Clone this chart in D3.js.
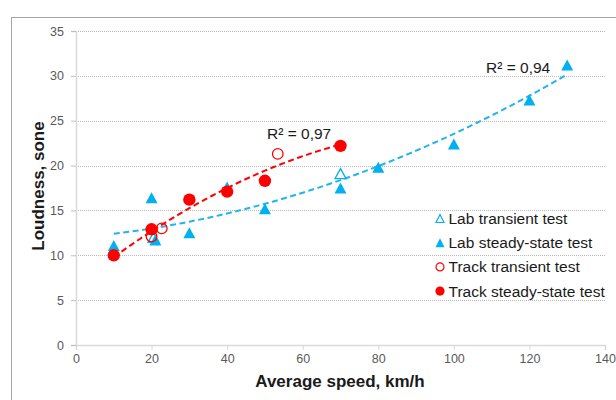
<!DOCTYPE html>
<html>
<head>
<meta charset="utf-8">
<script src="https://cdn.jsdelivr.net/npm/d3@7"></script>
<style>
  html, body { margin: 0; padding: 0; background: #fff; }
  svg { display: block; font-family: "Liberation Sans", Arial, sans-serif; }
</style>
</head>
<body>
<svg id="chart" width="616" height="400"></svg>
<script>
// ---- Data ----
const xTicks = [0, 20, 40, 60, 80, 100, 120, 140];
const yTicks = [0, 5, 10, 15, 20, 25, 30, 35];

const labTransientX = [20.5, 70];
const labTransientY = [12.0, 19.1];

const labSteadyX = [10, 20, 21, 30, 40, 50, 70, 80, 100, 120, 130];
const labSteadyY = [11.1, 16.4, 11.7, 12.5, 17.6, 15.2, 17.5, 19.8, 22.4, 27.3, 31.2];

const trackTransientX = [20, 22.7, 53.4];
const trackTransientY = [12.1, 13.0, 21.3];

const trackSteadyX = [10, 20, 30, 40, 50, 70];
const trackSteadyY = [10.0, 12.9, 16.2, 17.1, 18.3, 22.2];

const seriesNames = ["Lab transient test", "Lab steady-state test", "Track transient test", "Track steady-state test"];
const r2Labels = ["R\u00B2 = 0,94", "R\u00B2 = 0,97"];

// ---- Setup ----
const BLUE = "#00b0f0", RED = "#ff0000";
const svg = d3.select("#chart");
const x = d3.scaleLinear().domain([0, 140]).range([76, 605]);
const y = d3.scaleLinear().domain([0, 35]).range([345, 31]);

const zip = (xs, ys) => xs.map((v, i) => ({x: v, y: ys[i]}));
const labT = zip(labTransientX, labTransientY);
const labS = zip(labSteadyX, labSteadyY);
const trT = zip(trackTransientX, trackTransientY);
const trS = zip(trackSteadyX, trackSteadyY);

// outer chart border
svg.append("rect").attr("x", 11.5).attr("y", 17.5).attr("width", 700).attr("height", 500)
  .attr("fill", "none").attr("stroke", "#a6a6a6").attr("stroke-width", 1);

// gridlines
svg.append("g").selectAll("line").data(yTicks.filter(d => d > 0)).join("line")
  .attr("x1", x(0)).attr("x2", x(140))
  .attr("y1", d => Math.round(y(d)) + 0.5).attr("y2", d => Math.round(y(d)) + 0.5)
  .attr("stroke", "#b8b8b8").attr("stroke-width", 1).attr("stroke-dasharray", "1,1");

// axes
const xAxis = d3.axisBottom(x).tickValues(xTicks).tickSize(5).tickPadding(4).tickFormat(d3.format("d"));
const yAxis = d3.axisLeft(y).tickValues(yTicks).tickSize(5).tickPadding(7).tickFormat(d3.format("d"));

const gx = svg.append("g").attr("transform", `translate(0,${y(0)})`).call(xAxis);
const gy = svg.append("g").attr("transform", `translate(${x(0)},0)`).call(yAxis);
[gx, gy].forEach(g => {
  g.select(".domain").attr("stroke", "#d9d9d9").attr("stroke-width", 1.5);
  g.selectAll(".tick line").attr("stroke", "#d9d9d9").attr("stroke-width", 1);
  g.selectAll(".tick text").attr("fill", "#595959").style("font-size", "12.5px")
    .style("font-family", "'Liberation Sans', Arial, sans-serif");
});
gy.selectAll(".tick line").attr("stroke", "#bfbfbf");

// axis titles
svg.append("text").attr("x", 340).attr("y", 387).attr("text-anchor", "middle")
  .style("font-size", "17px").style("font-weight", "bold").attr("fill", "#1a1a1a")
  .text("Average speed, km/h");
svg.append("text").attr("transform", "translate(44,186) rotate(-90)").attr("text-anchor", "middle")
  .style("font-size", "17px").style("font-weight", "bold").attr("fill", "#1a1a1a")
  .text("Loudness, sone");

// ---- polynomial (order 2) least-squares trendline ----
function polyFit(pts) {
  const S = [0,0,0,0,0], T = [0,0,0];
  pts.forEach(p => {
    for (let k = 0; k < 5; k++) S[k] += Math.pow(p.x, k);
    for (let k = 0; k < 3; k++) T[k] += p.y * Math.pow(p.x, k);
  });
  const A = [[S[0],S[1],S[2],T[0]],[S[1],S[2],S[3],T[1]],[S[2],S[3],S[4],T[2]]];
  for (let i = 0; i < 3; i++) {
    let m = i;
    for (let r = i+1; r < 3; r++) if (Math.abs(A[r][i]) > Math.abs(A[m][i])) m = r;
    [A[i], A[m]] = [A[m], A[i]];
    for (let r = 0; r < 3; r++) if (r !== i) {
      const f = A[r][i] / A[i][i];
      for (let c = i; c < 4; c++) A[r][c] -= f * A[i][c];
    }
  }
  const c = [A[0][3]/A[0][0], A[1][3]/A[1][1], A[2][3]/A[2][2]];
  return v => c[0] + c[1]*v + c[2]*v*v;
}

function trend(pts, color) {
  const f = polyFit(pts);
  const ext = d3.extent(pts, p => p.x);
  const xs = d3.range(ext[0], ext[1] + 0.001, (ext[1] - ext[0]) / 60);
  svg.append("path").datum(xs)
    .attr("d", d3.line().x(v => x(v)).y(v => y(f(v))))
    .attr("fill", "none").attr("stroke", color).attr("stroke-width", 2)
    .attr("stroke-dasharray", "6,3.5");
}
trend(labT.concat(labS), "#21b5ea");
trend(trT.concat(trS), RED);

// ---- markers ----
const tri = (w, h) => `M0,${-h/2}L${w/2},${h/2}L${-w/2},${h/2}Z`;

svg.append("g").selectAll("path").data(labT).join("path")
  .attr("transform", d => `translate(${x(d.x)},${y(d.y)})`)
  .attr("d", tri(11, 10)).attr("fill", "#fff").attr("stroke", BLUE).attr("stroke-width", 1.3);
svg.append("g").selectAll("path").data(labS).join("path")
  .attr("transform", d => `translate(${x(d.x)},${y(d.y)})`)
  .attr("d", tri(12, 11)).attr("fill", BLUE);
svg.append("g").selectAll("circle").data(trT).join("circle")
  .attr("cx", d => x(d.x)).attr("cy", d => y(d.y)).attr("r", 5.3)
  .attr("fill", "none").attr("stroke", RED).attr("stroke-width", 1.3);
svg.append("g").selectAll("circle").data(trS).join("circle")
  .attr("cx", d => x(d.x)).attr("cy", d => y(d.y)).attr("r", 6.2)
  .attr("fill", RED);

// R² labels
svg.append("text").attr("x", 486).attr("y", 73).style("font-size", "15.5px").attr("fill", "#1a1a1a").text(r2Labels[0]);
svg.append("text").attr("x", 267).attr("y", 139).style("font-size", "15.5px").attr("fill", "#1a1a1a").text(r2Labels[1]);

// ---- legend ----
const lg = svg.append("g");
const rowY = [218.5, 242.7, 266.9, 291.1];
seriesNames.forEach((name, i) => {
  const g = lg.append("g").attr("transform", `translate(440,${rowY[i]})`);
  if (i === 0) g.append("path").attr("d", tri(8, 8)).attr("fill", "#fff").attr("stroke", BLUE).attr("stroke-width", 1.2);
  if (i === 1) g.append("path").attr("d", tri(9, 9)).attr("fill", BLUE);
  if (i === 2) g.append("circle").attr("r", 4).attr("fill", "none").attr("stroke", RED).attr("stroke-width", 1.2);
  if (i === 3) g.append("circle").attr("r", 4.6).attr("fill", RED);
  g.append("text").attr("x", 8.5).attr("dy", "0.35em").style("font-size", "15.5px").attr("fill", "#1a1a1a").text(name);
});
</script>
</body>
</html>
